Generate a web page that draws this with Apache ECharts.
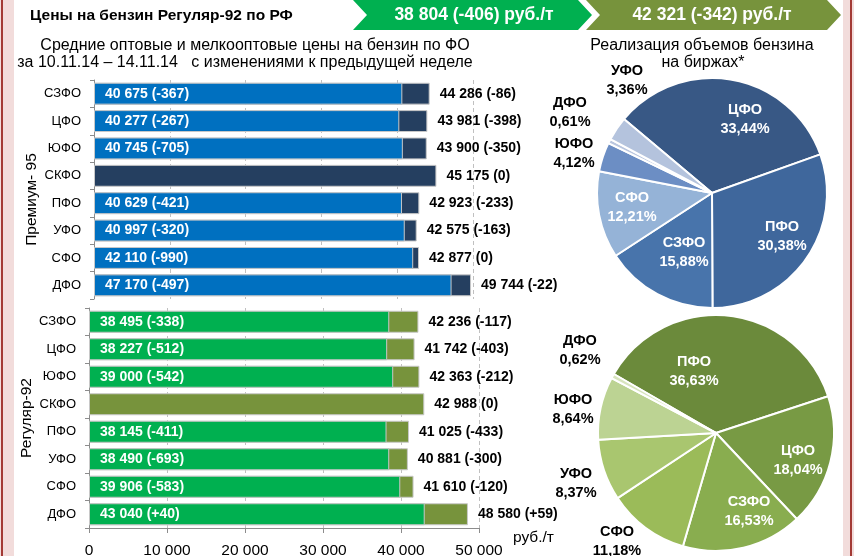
<!DOCTYPE html>
<html>
<head>
<meta charset="utf-8">
<script src="https://cdn.jsdelivr.net/npm/echarts@6/dist/echarts.min.js"></script>
<style>
  html, body { margin: 0; padding: 0; background: #fff; }
  #chart { width: 854px; height: 556px; }
</style>
</head>
<body>
<div id="chart"></div>
<script>
// Federal districts, top to bottom
const regions = ['СЗФО', 'ЦФО', 'ЮФО', 'СКФО', 'ПФО', 'УФО', 'СФО', 'ДФО'];

// Premium-95: wholesale and small-wholesale prices, rub/t, with weekly change
const prem95Wholesale    = [40675, 40277, 40745, null, 40629, 40997, 42110, 47170];
const prem95WholesaleChg = [-367, -267, -705, null, -421, -320, -990, -497];
const prem95Small        = [44286, 43981, 43900, 45175, 42923, 42575, 42877, 49744];
const prem95SmallChg     = [-86, -398, -350, 0, -233, -163, 0, -22];

// Regular-92
const reg92Wholesale    = [38495, 38227, 39000, null, 38145, 38490, 39906, 43040];
const reg92WholesaleChg = [-338, -512, -542, null, -411, -693, -583, 40];
const reg92Small        = [42236, 41742, 42363, 42988, 41025, 40881, 41610, 48580];
const reg92SmallChg     = [-117, -403, -212, 0, -433, -300, -120, 59];

// Russia-wide Regular-92 averages: wholesale, small-wholesale
const rfReg92Price  = [38804, 42321];
const rfReg92Change = [-406, -342];

// Exchange sales volume shares, %
const share95Names  = ['ЦФО', 'ПФО', 'СЗФО', 'СФО', 'ЮФО', 'ДФО', 'УФО'];
const share95Values = [33.44, 30.38, 15.88, 12.21, 4.12, 0.61, 3.36];
const share92Names  = ['ПФО', 'ЦФО', 'СЗФО', 'СФО', 'УФО', 'ЮФО', 'ДФО'];
const share92Values = [36.63, 18.04, 16.53, 11.18, 8.37, 8.64, 0.62];

// x-axis ticks
const priceTicks = [0, 10000, 20000, 30000, 40000, 50000];

const FONT = '"Liberation Sans", Arial, sans-serif';
const fmtNum = n => String(n).replace(/\B(?=(\d{3})+(?!\d))/g, ' ');
const fmtChg = n => (n > 0 ? '+' + n : String(n));
const fmtPct = v => v.toFixed(2).replace('.', ',') + '%';

// slice colours and label placement
const share95Colors = ['#385885', '#3F679C', '#4874AB', '#95B3D7', '#6C8EC4', '#B9C6DF', '#B4C3DD'];
const share92Colors = ['#6B8A3B', '#789A44', '#89AD4F', '#9BBB59', '#A9C66F', '#BCD393', '#D7E4BD'];
const share95Outside = [false, false, false, false, true, true, true];
const share92Outside = [false, false, false, true, true, true, true];
const share95LabelPos = [[745, 119], [782, 236], [684, 252], [632, 207], [574, 153], [570, 112], [627, 80]];
const share92LabelPos = [[694, 371], [798, 460], [749, 511], [617, 541], [576, 483], [573, 409], [580, 350]];

const chart = echarts.init(document.getElementById('chart'), null, { renderer: 'canvas' });

function barPair(idx, small, smallChg, whole, wholeChg, dark, bright) {
  const border = { borderColor: '#c8c8c8', borderWidth: 1 };
  return [
    {
      type: 'bar', xAxisIndex: idx, yAxisIndex: idx, data: small,
      barWidth: '80%', barGap: '-100%',
      itemStyle: Object.assign({ color: dark }, border),
      label: {
        show: true, position: 'right', distance: 10,
        color: '#000', fontWeight: 'bold', fontSize: 14, fontFamily: FONT,
        formatter: p => fmtNum(small[p.dataIndex]) + ' (' + fmtChg(smallChg[p.dataIndex]) + ')'
      }
    },
    {
      type: 'bar', xAxisIndex: idx, yAxisIndex: idx, data: whole,
      barWidth: '80%', barGap: '-100%',
      itemStyle: Object.assign({ color: bright }, border),
      label: {
        show: true, position: 'insideLeft', distance: 11,
        color: '#fff', fontWeight: 'bold', fontSize: 14, fontFamily: FONT,
        formatter: p => fmtNum(whole[p.dataIndex]) + ' (' + fmtChg(wholeChg[p.dataIndex]) + ')'
      }
    }
  ];
}

function pieSeries(names, values, colors, outside, pos, center, radius, startAngle) {
  return {
    type: 'pie', center: center, radius: radius, startAngle: startAngle, clockwise: true,
    avoidLabelOverlap: false,
    itemStyle: { borderColor: '#fff', borderWidth: 2 },
    label: {
      show: true, position: 'inside', fontFamily: FONT, fontSize: 14.5, fontWeight: 'bold',
      lineHeight: 19, color: '#fff',
      formatter: p => p.name + '\n' + fmtPct(p.value)
    },
    labelLine: { show: false },
    labelLayout: p => ({ x: pos[p.dataIndex][0], y: pos[p.dataIndex][1], align: 'center', verticalAlign: 'middle' }),
    emphasis: { disabled: true },
    data: names.map((n, i) => ({
      name: n, value: values[i],
      itemStyle: { color: colors[i] },
      label: outside[i] ? { color: '#000' } : {}
    }))
  };
}

function chevron(x0, x1, h, notch, fill) {
  return {
    type: 'polygon', silent: true,
    shape: { points: [[x0, 0], [x1, 0], [x1 + notch, h / 2], [x1, h], [x0, h], [x0 + notch, h / 2]] },
    style: { fill: fill }
  };
}

function yAxisFor(idx, name, gap, shift) {
  return {
    gridIndex: idx, name: name,
    type: 'category', data: regions, inverse: true,
    axisLine: { lineStyle: { color: '#8c8c8c' } },
    axisTick: { show: true, length: 4, lineStyle: { color: '#8c8c8c' } },
    axisLabel: { color: '#000', fontSize: 13, fontFamily: FONT, margin: 13 },
    nameLocation: 'middle', nameGap: gap,
    nameTextStyle: { color: '#000', fontSize: 15.5, fontFamily: FONT, padding: [0, shift, 0, 0] }
  };
}
const splitDash = { show: true, lineStyle: { color: '#c0c0c0', type: [4, 3] } };

chart.setOption({
  animation: false,
  backgroundColor: '#fff',
  grid: [
    { left: 94, top: 80, width: 379, height: 219, outerBoundsMode: 'none' },
    { left: 89, top: 308, width: 390, height: 220, outerBoundsMode: 'none' }
  ],
  xAxis: [
    {
      gridIndex: 0, type: 'value', min: priceTicks[0], max: priceTicks[priceTicks.length - 1],
      interval: priceTicks[1] - priceTicks[0],
      axisLine: { show: false }, axisTick: { show: false }, axisLabel: { show: false },
      splitLine: splitDash
    },
    {
      gridIndex: 1, type: 'value', min: priceTicks[0], max: priceTicks[priceTicks.length - 1],
      interval: priceTicks[1] - priceTicks[0],
      axisLine: { show: true, lineStyle: { color: '#8c8c8c' } },
      axisTick: { show: true, length: 5, lineStyle: { color: '#8c8c8c' } },
      axisLabel: { color: '#000', fontSize: 15.5, fontFamily: FONT, margin: 15, formatter: v => fmtNum(v) },
      splitLine: splitDash,
      name: 'руб./т', nameLocation: 'end', nameGap: 34,
      nameTextStyle: { color: '#000', fontSize: 15.5, fontFamily: FONT, align: 'left', verticalAlign: 'top', padding: [2, 0, 0, 0] }
    }
  ],
  yAxis: [
    yAxisFor(0, 'Премиум- 95', 53, 20),
    yAxisFor(1, 'Регуляр-92', 53, 0)
  ],
  graphic: [
    { type: 'rect', silent: true, shape: { x: 0, y: 0, width: 14, height: 556 }, style: { fill: '#F2DCDB' } },
    { type: 'rect', silent: true, shape: { x: 1, y: 0, width: 2, height: 556 }, style: { fill: '#A33A35' } },
    { type: 'rect', silent: true, shape: { x: 843, y: 0, width: 11, height: 556 }, style: { fill: '#F2DCDB' } },
    { type: 'rect', silent: true, shape: { x: 850, y: 0, width: 2, height: 556 }, style: { fill: '#A33A35' } },
    chevron(353, 578, 30, 14, '#00B050'),
    chevron(586, 827, 30, 14, '#77933C'),
    {
      type: 'text', silent: true, x: 30, y: 16,
      style: { text: 'Цены на бензин Регуляр-92 по РФ', fill: '#000', font: 'bold 15.5px ' + FONT, textVerticalAlign: 'middle' }
    },
    {
      type: 'text', silent: true, x: 474, y: 15,
      style: { text: fmtNum(rfReg92Price[0]) + ' (' + fmtChg(rfReg92Change[0]) + ') руб./т', fill: '#fff', font: 'bold 17.5px ' + FONT, textAlign: 'center', textVerticalAlign: 'middle' }
    },
    {
      type: 'text', silent: true, x: 712, y: 15,
      style: { text: fmtNum(rfReg92Price[1]) + ' (' + fmtChg(rfReg92Change[1]) + ') руб./т', fill: '#fff', font: 'bold 17.5px ' + FONT, textAlign: 'center', textVerticalAlign: 'middle' }
    },
    {
      type: 'text', silent: true, x: 255, y: 46,
      style: { text: 'Средние оптовые и мелкооптовые цены на бензин по ФО', fill: '#000', font: '16px ' + FONT, textAlign: 'center', textVerticalAlign: 'middle' }
    },
    {
      type: 'text', silent: true, x: 245, y: 63,
      style: { text: 'за 10.11.14 – 14.11.14   с изменениями к предыдущей неделе', fill: '#000', font: '16px ' + FONT, textAlign: 'center', textVerticalAlign: 'middle' }
    },
    {
      type: 'text', silent: true, x: 702, y: 46,
      style: { text: 'Реализация объемов бензина', fill: '#000', font: '16px ' + FONT, textAlign: 'center', textVerticalAlign: 'middle' }
    },
    {
      type: 'text', silent: true, x: 703, y: 63,
      style: { text: 'на биржах*', fill: '#000', font: '16px ' + FONT, textAlign: 'center', textVerticalAlign: 'middle' }
    }
  ],
  series: [
    ...barPair(0, prem95Small, prem95SmallChg, prem95Wholesale, prem95WholesaleChg, '#253F60', '#0070C0'),
    ...barPair(1, reg92Small, reg92SmallChg, reg92Wholesale, reg92WholesaleChg, '#77933C', '#00B050'),
    pieSeries(share95Names, share95Values, share95Colors, share95Outside, share95LabelPos, [712, 193], 115, 140),
    pieSeries(share92Names, share92Values, share92Colors, share92Outside, share92LabelPos, [716, 433], 118, 150)
  ]
});
</script>
</body>
</html>
